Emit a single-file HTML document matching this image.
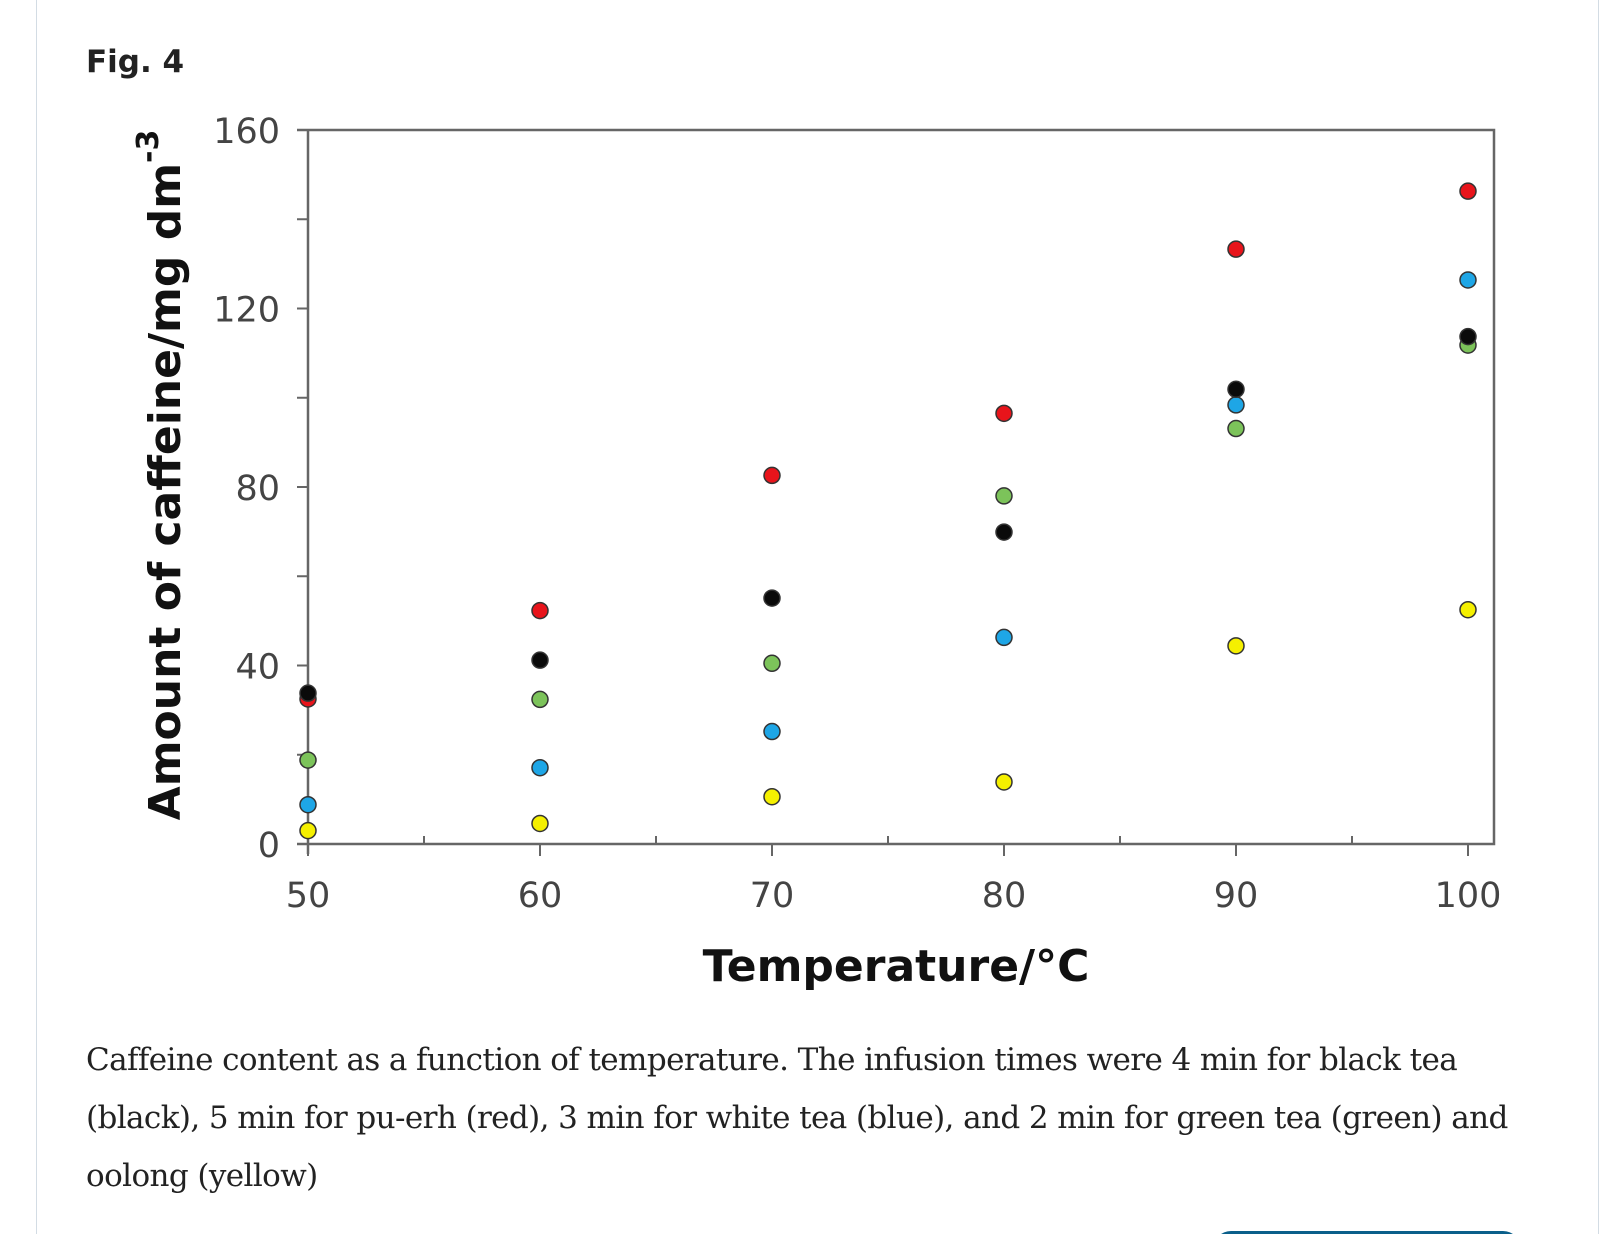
<!DOCTYPE html>
<html><head><meta charset="utf-8"><style>
html,body{margin:0;padding:0;background:#fff;width:1622px;height:1234px;overflow:hidden;position:relative}
.card{position:absolute;left:36px;top:-12px;width:1563px;height:1300px;border:1.5px solid #d3dce4;border-radius:12px;box-sizing:border-box}
.fig{position:absolute;left:86px;top:44px;font:bold 31px "DejaVu Sans","Liberation Sans",sans-serif;color:#222}
.cap{position:absolute;left:86px;top:1031px;width:1480px;font:31px/58px "DejaVu Serif","Liberation Serif",serif;color:#222;letter-spacing:-0.6px}
.btn{position:absolute;left:1213px;top:1231px;width:308px;height:40px;background:#0a5f8a;border-radius:18px}
svg{position:absolute;left:0;top:0}
</style></head><body>
<div class="card"></div>
<div class="fig">Fig. 4</div>
<svg id="chart" width="1622" height="1234"></svg>
<div class="cap">Caffeine content as a function of temperature. The infusion times were 4 min for black tea (black), 5 min for pu-erh (red), 3 min for white tea (blue), and 2 min for green tea (green) and oolong (yellow)</div>
<div class="btn"></div>
<script>
const temps=[50,60,70,80,90,100];
const xTicks=[50,60,70,80,90,100];
const yTicks=[0,40,80,120,160];
const redVals=[32.5,52.3,82.6,96.5,133.3,146.3];
const blackVals=[33.8,41.2,55.1,69.9,101.9,113.7];
const greenVals=[18.8,32.4,40.5,78,93.1,111.8];
const blueVals=[8.8,17.1,25.2,46.3,98.4,126.4];
const yellowVals=[3,4.6,10.6,13.9,44.4,52.5];
const NS="http://www.w3.org/2000/svg";
const svg=document.getElementById('chart');
const X0=308,X1=1468,Y0=844,Y1=130;
const xs=v=>X0+(v-50)/50*(X1-X0);
const ys=v=>Y0-v/160*(Y0-Y1);
function mk(t,a){const e=document.createElementNS(NS,t);for(const k in a)e.setAttribute(k,a[k]);svg.appendChild(e);return e;}
const fr=mk('path',{d:`M297 ${Y1}H1494V${Y0}H297`,fill:'none',stroke:'#666','stroke-width':2.5});


const ya=mk('line',{x1:X0,y1:Y1,x2:X0,y2:Y0+10,stroke:'#666','stroke-width':2.5});


for(let v=0;v<=160;v+=20){const l=mk('line',{x1:297,x2:X0,y1:ys(v),y2:ys(v),stroke:'#666','stroke-width':2});

}
yTicks.forEach(v=>{const t=mk('text',{x:280,y:ys(v)+13,'text-anchor':'end','font-family':'DejaVu Sans, sans-serif','font-size':35,fill:'#444'});t.textContent=v;

});
for(let v=55;v<100;v+=10){const l=mk('line',{x1:xs(v),x2:xs(v),y1:Y0-8,y2:Y0,stroke:'#666','stroke-width':2});

}
xTicks.forEach(v=>{const l=mk('line',{x1:xs(v),x2:xs(v),y1:Y0,y2:Y0+12,stroke:'#666','stroke-width':2});


const t=mk('text',{x:xs(v),y:907,'text-anchor':'middle','font-family':'DejaVu Sans, sans-serif','font-size':35,fill:'#444'});t.textContent=v;

});
const xt=mk('text',{x:896,y:981,'text-anchor':'middle','font-family':'DejaVu Sans, sans-serif','font-weight':'bold','font-size':44,fill:'#111'});xt.textContent='Temperature/°C';


const yt=mk('text',{transform:'translate(180,475) rotate(-90)','text-anchor':'middle','font-family':'DejaVu Sans, sans-serif','font-weight':'bold','font-size':44,fill:'#111'});
yt.innerHTML='Amount of caffeine/mg dm<tspan dy="-22" font-size="30">-3</tspan>';


const series=[[yellowVals,'#f5f000','yellow'],[blueVals,'#1ea6e6','blue'],[greenVals,'#7cc35a','green'],[redVals,'#e8141b','red'],[blackVals,'#0a0a0a','black']];
series.forEach(([vals,col,nm])=>{vals.forEach((v,i)=>{const c=mk('circle',{cx:xs(temps[i]),cy:ys(v),r:8,fill:col,stroke:'#333','stroke-width':1.5});

});});
</script>
</body></html>
